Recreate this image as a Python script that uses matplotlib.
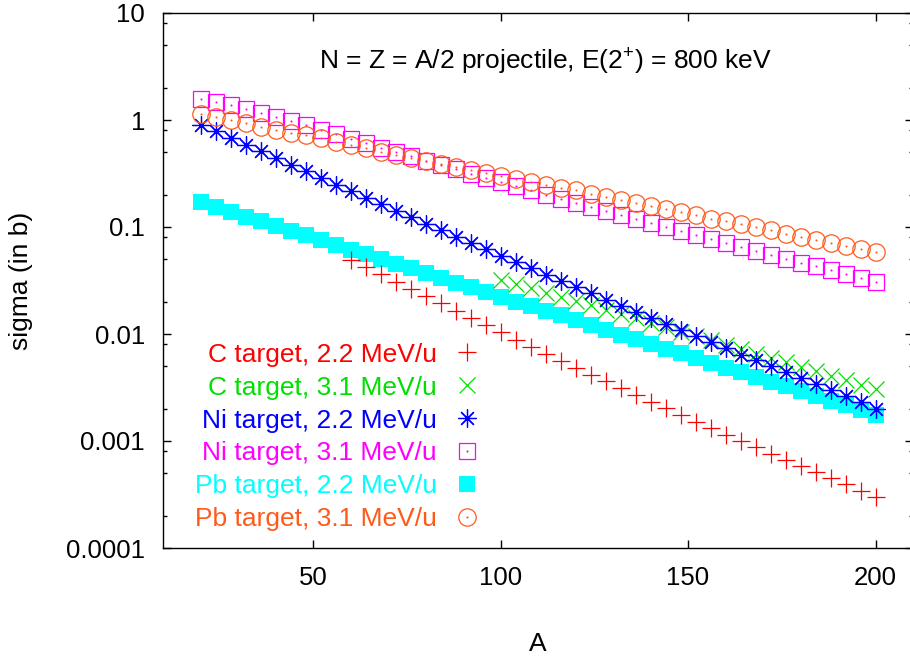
import numpy as np
import matplotlib
matplotlib.use('Agg')
import matplotlib.pyplot as plt
from matplotlib.ticker import FixedLocator, LogLocator, FuncFormatter, NullFormatter, NullLocator
from matplotlib.legend_handler import HandlerTuple

plt.rcParams['font.family'] = ['Liberation Sans', 'DejaVu Sans']
plt.rcParams['mathtext.fontset'] = 'custom'
plt.rcParams['mathtext.rm'] = 'Liberation Sans'
plt.rcParams['mathtext.it'] = 'Liberation Sans'

# mass number grid of projectile
A_full = [20, 24, 28, 32, 36, 40, 44, 48, 52, 56, 60, 64, 68, 72, 76, 80,
          84, 88, 92, 96, 100, 104, 108, 112, 116, 120, 124, 128, 132, 136,
          140, 144, 148, 152, 156, 160, 164, 168, 172, 176, 180, 184, 188,
          192, 196, 200]
A_c22 = A_full[10:]   # C target 2.2 MeV/u starts at A=60
A_c31 = A_full[20:]   # C target 3.1 MeV/u starts at A=100

# cross sections (b)
c_22 = [0.0495, 0.0423, 0.0361, 0.0308, 0.0263, 0.0226, 0.0193, 0.0165, 0.0142,
        0.01214, 0.01035, 0.00885, 0.00761, 0.00655, 0.00563, 0.00484, 0.00417,
        0.00361, 0.00313, 0.00271, 0.00233, 0.00202, 0.00176, 0.00152, 0.00132,
        0.00115, 0.000996, 0.00087, 0.000761, 0.000666, 0.000584, 0.000511,
        0.000449, 0.000395, 0.000343, 0.0003]
c_31 = [0.0322, 0.0293, 0.0267, 0.0244, 0.0222, 0.0203, 0.0185, 0.0168, 0.01535,
        0.014, 0.01275, 0.0116, 0.01055, 0.0096, 0.00873, 0.00794, 0.00722,
        0.00657, 0.00598, 0.00544, 0.00495, 0.00449, 0.00408, 0.00369, 0.00334,
        0.00303]
ni_22 = [0.904, 0.782, 0.679, 0.590, 0.511, 0.4414, 0.382, 0.331, 0.287, 0.2485,
         0.216, 0.188, 0.1633, 0.142, 0.1235, 0.1073, 0.0933, 0.0812, 0.0709,
         0.0618, 0.0539, 0.0469, 0.0410, 0.0358, 0.0313, 0.0274, 0.0240, 0.0209,
         0.0184, 0.0161, 0.01406, 0.0123, 0.01081, 0.00948, 0.00833, 0.00732,
         0.00643, 0.00567, 0.00498, 0.0044, 0.00386, 0.00341, 0.003, 0.00265,
         0.00231, 0.002]
ni_31 = [1.58, 1.48, 1.37, 1.256, 1.153, 1.057, 0.970, 0.890, 0.812, 0.737,
         0.669, 0.607, 0.551, 0.502, 0.457, 0.417, 0.380, 0.345, 0.315, 0.287,
         0.262, 0.2394, 0.220, 0.2004, 0.1838, 0.1676, 0.1538, 0.1406, 0.1289,
         0.1178, 0.108, 0.0991, 0.0910, 0.0834, 0.0766, 0.0706, 0.0648, 0.0597,
         0.0547, 0.0506, 0.0464, 0.0428, 0.0395, 0.0364, 0.0334, 0.0308]
pb_22 = [0.170, 0.1535, 0.1387, 0.1253, 0.1132, 0.1021, 0.0923, 0.0834, 0.0753,
         0.0681, 0.0615, 0.0556, 0.0502, 0.0454, 0.0410, 0.0370, 0.0334, 0.0302,
         0.0273, 0.0247, 0.0223, 0.0201, 0.0182, 0.0164, 0.0149, 0.0134, 0.0121,
         0.0109, 0.00989, 0.00893, 0.00807, 0.00729, 0.00659, 0.00596, 0.00538,
         0.00486, 0.00439, 0.00396, 0.00358, 0.00324, 0.00292, 0.00264, 0.00239,
         0.00216, 0.00195, 0.00176]
pb_31 = [1.14, 1.057, 0.991, 0.937, 0.866, 0.812, 0.761, 0.721, 0.679, 0.627,
         0.584, 0.543, 0.506, 0.471, 0.444, 0.417, 0.391, 0.364, 0.341, 0.317,
         0.297, 0.281, 0.264, 0.249, 0.233, 0.220, 0.205, 0.191, 0.180, 0.168,
         0.158, 0.147, 0.137, 0.129, 0.120, 0.113, 0.106, 0.0991, 0.0929, 0.0865,
         0.0807, 0.0753, 0.0706, 0.0659, 0.0621, 0.0579]

labels = ['C target, 2.2 MeV/u', 'C target, 3.1 MeV/u', 'Ni target, 2.2 MeV/u',
          'Ni target, 3.1 MeV/u', 'Pb target, 2.2 MeV/u', 'Pb target, 3.1 MeV/u']
colors = ['#ff0000', '#00e000', '#0000ff', '#ff00ff', '#00ffff', '#ff5a1a']

fs = 19
fig = plt.figure(figsize=(9.1, 6.6), dpi=100)
ax = fig.add_axes([163/910, 1-548/660, 750/910, 535/660])
ax.set_yscale('log')

mew = 0.9
h_pb22, = ax.plot(A_full, pb_22, ls='none', marker='s', ms=11.5, mfc=colors[4],
                  mec=colors[4], mew=0, zorder=2)
h_c22, = ax.plot(A_c22, c_22, ls='none', marker='+', ms=13, mec=colors[0], mew=mew, zorder=3)
h_c31, = ax.plot(A_c31, c_31, ls='none', marker='x', ms=11, mec=colors[1], mew=mew, zorder=3)
h_ni22, = ax.plot(A_full, ni_22, ls='none', marker=(8, 2, 0), ms=13, mec=colors[2], mew=mew, zorder=3)
d_ni22, = ax.plot(A_full, ni_22, ls='none', marker='o', ms=3.5, mfc=colors[2], mec=colors[2], mew=0, zorder=3)
h_ni31, = ax.plot(A_full, ni_31, ls='none', marker='s', ms=12, mfc='none', mec=colors[3], mew=mew, zorder=3)
d_ni31, = ax.plot(A_full, ni_31, ls='none', marker='o', ms=1.5, mfc=colors[3], mec=colors[3], mew=0, zorder=3)
h_pb31, = ax.plot(A_full, pb_31, ls='none', marker='o', ms=12.5, mfc='none', mec=colors[5], mew=mew, zorder=3)
d_pb31, = ax.plot(A_full, pb_31, ls='none', marker='o', ms=1.5, mfc=colors[5], mec=colors[5], mew=0, zorder=3)

ax.set_xlim(10, 210)
ax.set_ylim(1e-4, 10)

ax.xaxis.set_major_locator(FixedLocator([50, 100, 150, 200]))
ax.xaxis.set_minor_locator(NullLocator())
ax.yaxis.set_major_locator(FixedLocator([1e-4, 1e-3, 1e-2, 1e-1, 1, 10]))
ax.yaxis.set_major_formatter(FuncFormatter(lambda v, p: '%g' % v))
ax.yaxis.set_minor_locator(LogLocator(base=10, subs=(2, 5, 8)))
ax.yaxis.set_minor_formatter(NullFormatter())
ax.tick_params(which='both', direction='in', top=True, right=True, width=1.0)
ax.tick_params(which='major', length=6, labelsize=18.5, pad=13)
ax.tick_params(which='minor', length=3)
for s in ax.spines.values():
    s.set_linewidth(1.0)

ax.set_xlabel('A', fontsize=fs, labelpad=30)
ax.set_ylabel('sigma (in b)', fontsize=fs, labelpad=24)

ax.text(0.51, 0.9095, 'N = Z = A/2 projectile, E(2$^{+}$) = 800 keV', transform=ax.transAxes,
        ha='center', va='center', fontsize=fs)

handles = [h_c22, h_c31, (h_ni22, d_ni22), (h_ni31, d_ni31), h_pb22, (h_pb31, d_pb31)]
leg = ax.legend(handles, labels, loc='upper right', bbox_to_anchor=(0.4267, 0.384),
                frameon=False, markerfirst=False, fontsize=fs, labelspacing=0.34,
                handlelength=1.2, handletextpad=0.55, borderpad=0, borderaxespad=0,
                handler_map={tuple: HandlerTuple(ndivide=1)})
for t, c in zip(leg.get_texts(), colors):
    t.set_color(c)

plt.savefig('out.png', dpi=100)
